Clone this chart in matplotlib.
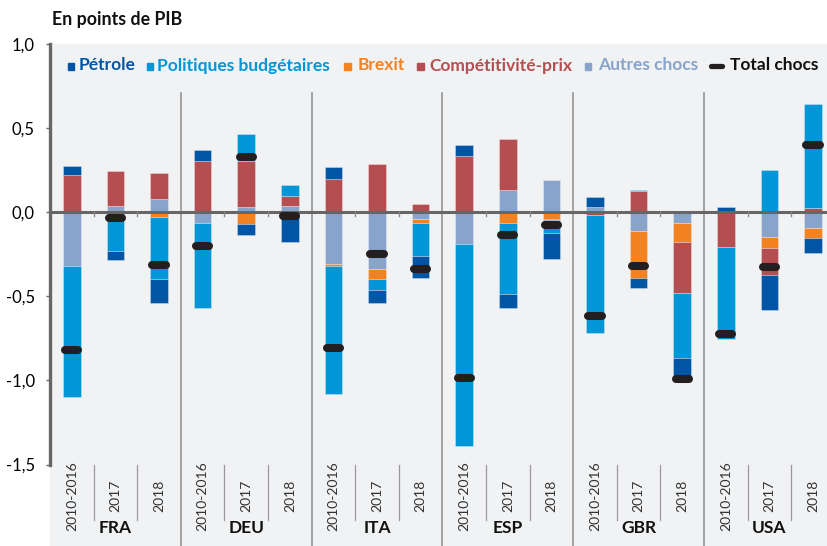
import numpy as np
import matplotlib
matplotlib.use("Agg")
import matplotlib.pyplot as plt
from matplotlib.patches import Rectangle
from matplotlib.lines import Line2D

W, H = 828, 546
SANS = ["Lato", "DejaVu Sans"]

# ── données (points de PIB) ────────────────────────────────────────────────
countries = ["FRA", "DEU", "ITA", "ESP", "GBR", "USA"]
periods = ["2010-2016", "2017", "2018"]

petrole = [0.055, -0.056, -0.143,  0.065, -0.067, -0.177,  0.070, -0.075, -0.135,
           0.070, -0.084, -0.150,  0.058, -0.060, -0.123,  0.028, -0.208, -0.091]
budget = [-0.775, -0.230, -0.370, -0.508, 0.161, 0.066, -0.764, -0.062, -0.196,
          -1.200, -0.419, -0.080, -0.698, 0.006, -0.389, -0.549, 0.253, 0.621]
brexit = [-0.005, 0.0, -0.027,  0.0, -0.069, 0.0,  -0.008, -0.062, -0.024,
          0.0, -0.067, -0.038,  0.0, -0.280, -0.113,  0.0, -0.063, -0.060]
compet = [0.220, 0.208, 0.155,  0.305, 0.275, 0.059,  0.200, 0.287, 0.051,
          0.332, 0.306, -0.008,  -0.018, 0.125, -0.298,  -0.207, -0.163, 0.023]
autres = [-0.317, 0.038, 0.077,  -0.064, 0.030, 0.035,  -0.310, -0.338, -0.039,
          -0.190, 0.130, 0.190,  0.032, -0.110, -0.067,  0.0, -0.148, -0.094]
total = [-0.818, -0.036, -0.313,  -0.200, 0.330, -0.020,  -0.810, -0.247, -0.338,
         -0.983, -0.135, -0.075,  -0.620, -0.318, -0.990,  -0.726, -0.324, 0.402]

C_PET, C_BUD, C_BRX = "#0055a4", "#0096d8", "#f58220"
C_CMP, C_AUT, C_TOT = "#b54e50", "#88a4ca", "#231f20"
BG, AX = "#f1f2f4", "#666666"

# ordre d'empilement depuis zéro
stack = [(autres, C_AUT), (brexit, C_BRX), (compet, C_CMP), (budget, C_BUD), (petrole, C_PET)]

fig = plt.figure(figsize=(W / 100, H / 100), dpi=100)
fig.patches.append(Rectangle((50 / W, 0), (W - 50) / W, (H - 44) / H,
                             transform=fig.transFigure, color=BG, zorder=-5))
ax = fig.add_axes([50 / W, (H - 464.5) / H, (834.8 - 50) / W, 420.5 / H])
ax.set_facecolor("none")
ax.set_zorder(2)

x = np.arange(len(total))
pos = np.zeros(len(x))
neg = np.zeros(len(x))
for vals, col in stack:
    v = np.array(vals)
    bottom = np.where(v >= 0, pos, neg)
    ax.bar(x, v, width=0.40, bottom=bottom, color=col,
           edgecolor=(1, 1, 1, 0.35), linewidth=0.6, zorder=2)
    pos += np.clip(v, 0, None)
    neg += np.clip(v, None, 0)

ax.axhline(0, color=AX, lw=2.2, zorder=3)
ax.hlines(total, x - 0.15, x + 0.15, colors=C_TOT, lw=5.8, capstyle="round", zorder=4)

ax.set_xlim(-0.5, len(x) - 0.5)
ax.set_ylim(-1.5, 1.0)
ax.set_yticks([1.0, 0.5, 0.0, -0.5, -1.0, -1.5])
ax.set_yticklabels(["1,0", "0,5", "0,0", "-0,5", "-1,0", "-1,5"], family=SANS, fontsize=12)
ax.tick_params(axis="y", length=3, width=1, color=AX, pad=8)
ax.set_xticks([])
for s in ("top", "right", "bottom"):
    ax.spines[s].set_visible(False)
ax.spines["left"].set_color(AX)
ax.spines["left"].set_linewidth(2.4)

# séparateurs
trans = ax.get_xaxis_transform()
for b in np.arange(0.5, len(x) - 1, 1.0):
    if int(b + 0.5) % 3 == 0:
        ax.plot([b, b], [0.8835, -0.194], transform=trans, color="#8a8a8a",
                lw=1.1, clip_on=False, zorder=1)
    else:
        ax.plot([b, b], [0, -0.132], transform=trans, color="#9a9a9a",
                lw=0.9, clip_on=False, zorder=1)
        ax.plot([b, b], [0, -0.025], color="#8a8a8a", lw=1.0, zorder=3)

# libellés de l'axe x
for i in x:
    ax.text(i, -0.075, periods[i % 3], transform=trans, rotation=90, ha="center",
            va="center", fontsize=10, color="#333333", family=SANS)
for g, c in enumerate(countries):
    ax.text(3 * g + 1, -0.152, c, transform=trans, ha="center", va="center",
            fontsize=12.5, fontweight="bold", color="#111111", family=SANS)

# titre
fig.text(52 / W, 1 - 25 / H, "En points de PIB", fontsize=12.8, fontweight="bold",
         family=SANS, color="#111111", va="baseline")

# légende
legend = [(71, 78.3, "Pétrole", C_PET), (150, 156.7, "Politiques budgétaires", C_BUD),
          (347.5, 357.3, "Brexit", C_BRX), (420.5, 429.3, "Compétitivité-prix", C_CMP),
          (588, 597.7, "Autres chocs", C_AUT)]
for sx, tx, lab, col in legend:
    fig.patches.append(Rectangle(((sx - 3.3) / W, 1 - 69.5 / H), 6.6 / W, 6.6 / H,
                                 transform=fig.transFigure, color=col, zorder=3))
    fig.text(tx / W, 1 - 70.5 / H, lab, fontsize=12.5, fontweight="bold", color=col,
             family=SANS, va="baseline")
fig.add_artist(Line2D([711 / W, 722 / W], [1 - 66 / H, 1 - 66 / H], color=C_TOT,
                      lw=3.8, solid_capstyle="round", transform=fig.transFigure))
fig.text(730 / W, 1 - 70.5 / H, "Total chocs", fontsize=12.5, fontweight="bold",
         color="#111111", family=SANS, va="baseline")

fig.savefig("out.png", dpi=100)
